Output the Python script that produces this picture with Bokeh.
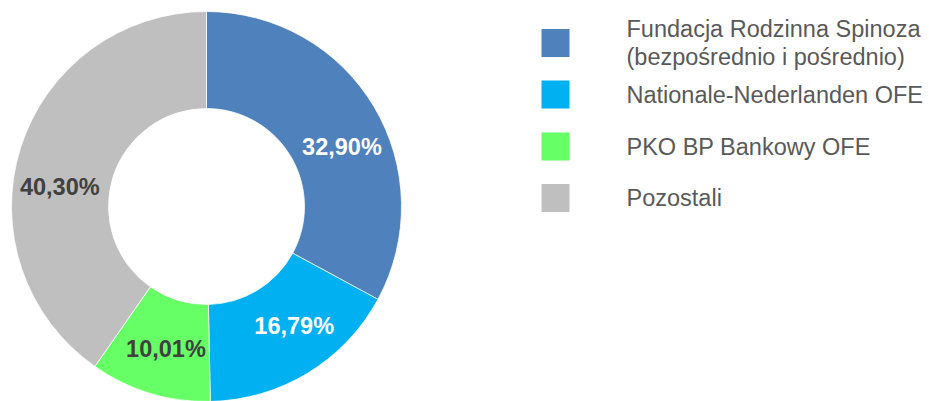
import math
from bokeh.plotting import figure
from bokeh.models import Range1d, ColumnDataSource
from bokeh.core.properties import value
from bokeh.embed import file_html
from bokeh.resources import INLINE

# Data
categories = ["Fundacja Rodzinna Spinoza\n(bezpośrednio i pośrednio)",
              "Nationale-Nederlanden OFE",
              "PKO BP Bankowy OFE",
              "Pozostali"]
shares = [32.90, 16.79, 10.01, 40.30]
share_labels = ["32,90%", "16,79%", "10,01%", "40,30%"]

# Style
colors = ["#4F81BD", "#00B0F0", "#66FF66", "#BFBFBF"]
label_colors = ["#FFFFFF", "#FFFFFF", "#404040", "#404040"]
label_nudge_deg = [-7, 5, 1, 10]   # small angular nudges of the value labels

W, H = 929, 401
cx, cy = 206, H - 206
r_out, r_in = 195, 98
r_lab = 148

total = sum(shares)
starts, ends, lx, ly = [], [], [], []
cum = 0.0
for s, nd in zip(shares, label_nudge_deg):
    a0 = math.pi / 2 - 2 * math.pi * cum / total
    cum += s
    a1 = math.pi / 2 - 2 * math.pi * cum / total
    starts.append(a0)
    ends.append(a1)
    mid = (a0 + a1) / 2 + math.radians(nd)
    lx.append(cx + r_lab * math.cos(mid))
    ly.append(cy + r_lab * math.sin(mid))

src = ColumnDataSource(dict(start=starts, end=ends, color=colors,
                            lx=lx, ly=ly, lab=share_labels, lc=label_colors))

p = figure(width=W, height=H, x_range=Range1d(0, W), y_range=Range1d(0, H),
           output_backend="svg", toolbar_location=None, min_border=0,
           background_fill_color="white", border_fill_color="white")
p.axis.visible = False
p.grid.visible = False
p.outline_line_color = None

p.annular_wedge(x=cx, y=cy, inner_radius=r_in, outer_radius=r_out,
                start_angle="start", end_angle="end", direction="clock",
                fill_color="color", line_color="white", line_width=0.75,
                source=src)

p.text(x="lx", y="ly", text="lab", text_color="lc", source=src,
       text_font=value("Liberation Sans"), text_font_style="bold",
       text_font_size="23.5px", text_align="center", text_baseline="middle")

# Legend (manual)
row_y = [H - 42.5, H - 94, H - 146, H - 197.5]
leg = ColumnDataSource(dict(y=row_y, color=colors, lab=categories))
p.rect(x=555, y="y", width=28, height=28, fill_color="color", line_color=None, source=leg)
p.text(x=626, y="y", text="lab", source=leg, text_color="#595959",
       text_font=value("Liberation Sans"), text_font_size="23.5px",
       text_align="left", text_baseline="middle", text_line_height=1.1)

open("out.html", "w").write(file_html(p, INLINE))
